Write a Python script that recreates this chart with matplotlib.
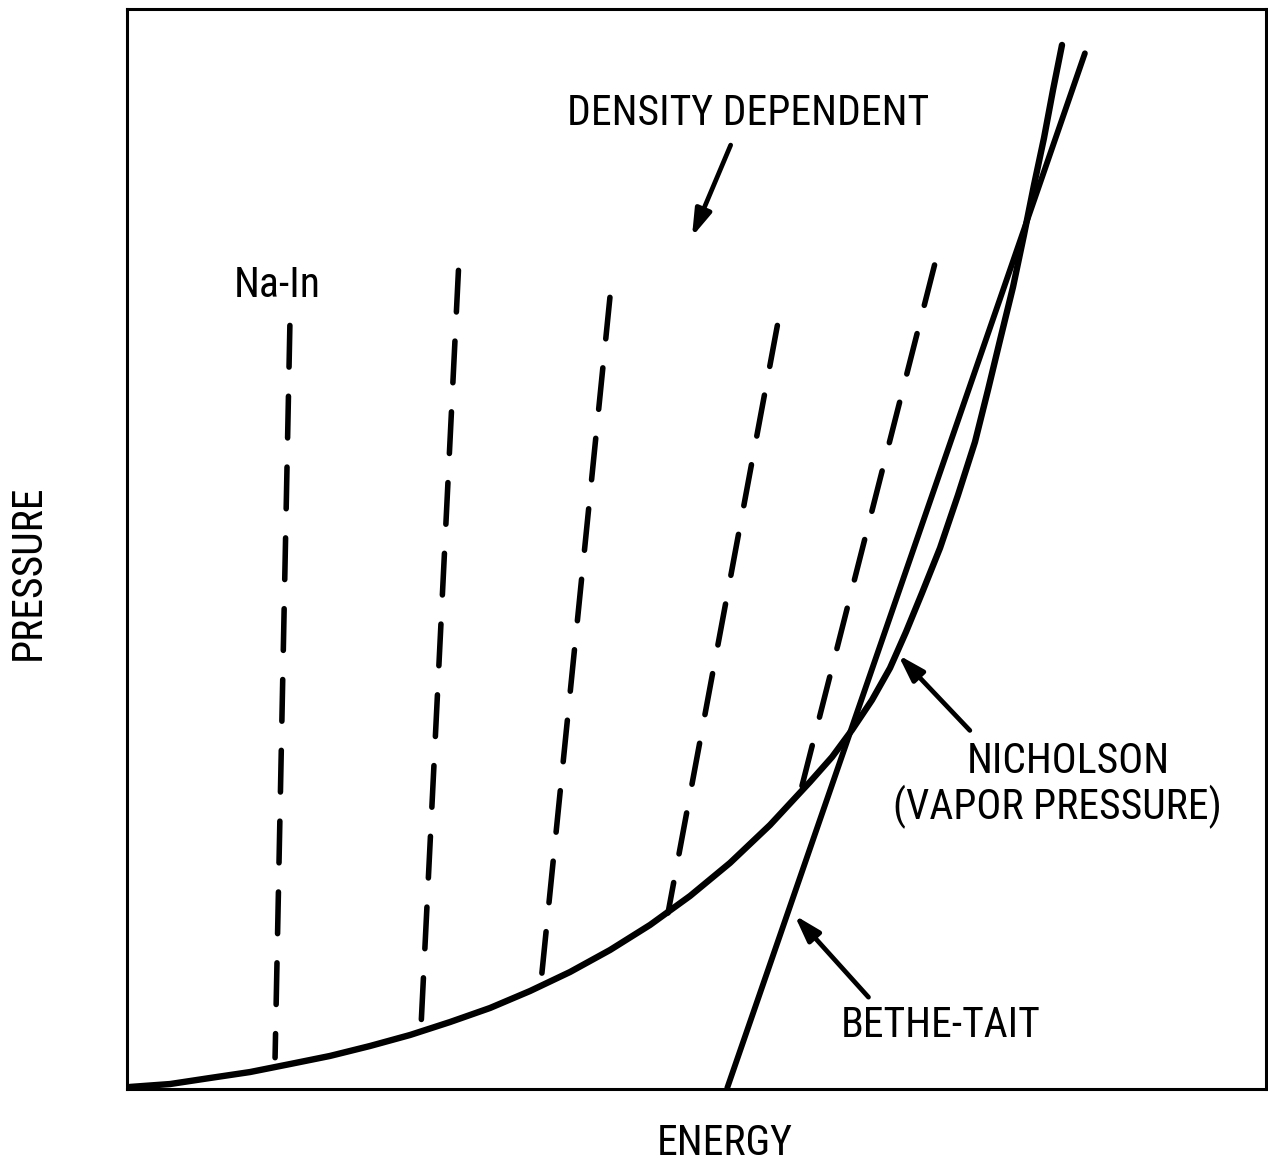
import matplotlib
matplotlib.use("Agg")
import matplotlib.pyplot as plt
from matplotlib import font_manager

# ---- data (arbitrary units: energy 0-100, pressure 0-100) ----
nich_energy = [0.26, 3.78, 7.29, 10.80, 14.31, 17.82, 21.33, 24.85, 28.36, 31.87,
               35.38, 38.89, 42.41, 45.92, 49.43, 52.94, 56.45, 59.96, 61.90, 63.65,
               65.41, 66.99, 68.39, 69.80, 71.38, 72.96, 74.45, 75.59, 76.65, 77.79,
               78.75, 79.63, 80.51, 81.30, 82.09]
nich_pressure = [0.19, 0.46, 1.02, 1.57, 2.31, 3.06, 3.98, 5.00, 6.20, 7.50,
                 9.07, 10.83, 12.87, 15.19, 17.87, 20.93, 24.44, 28.43, 30.74, 33.24,
                 36.02, 38.98, 42.31, 45.93, 50.09, 55.00, 59.91, 64.72, 69.35, 74.26,
                 79.07, 83.70, 88.06, 92.50, 96.67]

bt_energy = [52.7, 84.1]
bt_pressure = [0.1, 95.9]

# density-dependent isochores
dd_top_energy = [14.3, 29.1, 42.4, 57.1, 70.9]
dd_top_pressure = [70.7, 75.8, 73.3, 70.7, 76.3]
dd_bot_energy = [13.0, 25.8, 36.3, 47.5, 59.1]
dd_bot_pressure = [2.9, 5.5, 9.4, 16.3, 27.4]

# ---- font ----
names = {f.name for f in font_manager.fontManager.ttflist}
fam = None
for cand in ["Liberation Sans Narrow", "DejaVu Sans Condensed", "Roboto Condensed",
             "Open Sans Condensed", "Liberation Sans"]:
    if cand in names:
        fam = cand
        break
if fam is None:
    fam = "DejaVu Sans"
plt.rcParams['font.family'] = [fam, 'DejaVu Sans']
plt.rcParams['lines.scale_dashes'] = False

W, H = 1268, 1162
fig = plt.figure(figsize=(W / 100, H / 100), dpi=100)
ax = fig.add_axes([127 / W, (H - 1089) / H, 1139 / W, 1080 / H])
ax.set_xlim(0, 100)
ax.set_ylim(0, 100)
ax.set_xticks([])
ax.set_yticks([])
for s in ax.spines.values():
    s.set_linewidth(2.2)

lw = 4.6
ax.plot(nich_energy, nich_pressure, color='black', lw=lw, solid_capstyle='round',
        solid_joinstyle='round')
ax.plot(bt_energy, bt_pressure, color='black', lw=lw - 0.4, solid_capstyle='round')

for te, tp, be, bp in zip(dd_top_energy, dd_top_pressure, dd_bot_energy, dd_bot_pressure):
    ax.plot([te, be], [tp, bp], color='black', lw=4.0, dashes=(30, 21),
            dash_capstyle='round')

fs = 30
ax.text(54.5, 89.3, "DENSITY DEPENDENT", fontsize=fs, ha='center', va='baseline')
ax.text(13.2, 73.3, "Na-In", fontsize=fs, ha='center', va='baseline')
ax.text(82.6, 29.3, "NICHOLSON", fontsize=fs, ha='center', va='baseline')
ax.text(81.7, 25.0, "(VAPOR PRESSURE)", fontsize=fs, ha='center', va='baseline')
ax.text(71.4, 4.8, "BETHE-TAIT", fontsize=fs, ha='center', va='baseline')

arrow_kw = dict(arrowstyle='-|>,head_length=1.6,head_width=0.5', color='black',
                lw=3.4, shrinkA=0, shrinkB=0)
ax.annotate("", xy=(49.6, 78.9), xytext=(53.0, 87.4), arrowprops=arrow_kw)
ax.annotate("", xy=(67.7, 40.2), xytext=(74.0, 33.2), arrowprops=arrow_kw)
ax.annotate("", xy=(58.6, 16.1), xytext=(65.1, 8.5), arrowprops=arrow_kw)

fig.text(725 / W, 1 - 1155 / H, "ENERGY", fontsize=fs, ha='center', va='baseline')
fig.text(28 / W, 1 - 572 / H, "PRESSURE", fontsize=fs, ha='center', va='center',
         rotation=90)

fig.savefig("out.png", dpi=100)
